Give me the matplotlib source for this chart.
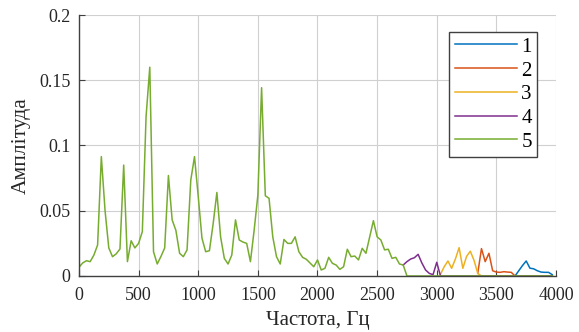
import numpy as np
import matplotlib
matplotlib.use("Agg")
import matplotlib.pyplot as plt

plt.rcParams['font.family'] = ['Liberation Serif', 'DejaVu Serif']
plt.rcParams['mathtext.fontset'] = 'stix'

# frequency grid (Hz)
freq_step = 31.25
n_points = 128

# series band values and starting index on the grid
s5_start = 0
s5_vals = [0.0067, 0.010, 0.0117, 0.011, 0.016, 0.0238, 0.0915, 0.050, 0.0215, 0.0148,
           0.017, 0.0207, 0.085, 0.011, 0.027, 0.0215, 0.025, 0.034, 0.122, 0.160,
           0.0186, 0.0092, 0.015, 0.0215, 0.077, 0.043, 0.035, 0.0174, 0.0148, 0.020,
           0.0735, 0.0915, 0.061, 0.029, 0.0186, 0.0194, 0.040, 0.064, 0.030, 0.0135,
           0.0092, 0.016, 0.043, 0.0276, 0.026, 0.025, 0.011, 0.035, 0.062, 0.1443,
           0.0615, 0.0595, 0.030, 0.0148, 0.0092, 0.028, 0.025, 0.025, 0.030, 0.0186,
           0.0143, 0.0128, 0.010, 0.0071, 0.0123, 0.0046, 0.0059, 0.0143, 0.0097, 0.0084,
           0.0051, 0.0071, 0.0205, 0.0148, 0.0153, 0.0123, 0.0212, 0.0174, 0.030, 0.0424,
           0.030, 0.0276, 0.020, 0.0205, 0.0135, 0.0143, 0.0092, 0.0084, 0.0]
s4_start = 87
s4_vals = [0.0084, 0.011, 0.013, 0.014, 0.0166, 0.010, 0.0046, 0.002, 0.001, 0.0105, 0.0]
s3_start = 97
s3_vals = [0.0013, 0.0071, 0.0115, 0.0059, 0.013, 0.0217, 0.0059, 0.015, 0.019, 0.012, 0.002]
s2_start = 107
s2_vals = [0.002, 0.021, 0.011, 0.0174, 0.004, 0.003, 0.0028, 0.0033, 0.003, 0.0028, 0.0]
s1_start = 117
s1_vals = [0.0, 0.004, 0.008, 0.0115, 0.006, 0.0055, 0.004, 0.003, 0.0028, 0.0028, 0.001]

labels = ['1', '2', '3', '4', '5']
colors = ['#0072BD', '#D95319', '#EDB120', '#7E2F8E', '#77AC30']

xticks = [0, 500, 1000, 1500, 2000, 2500, 3000, 3500, 4000]
yticks = [0, 0.05, 0.1, 0.15, 0.2]
ytick_labels = ['0', '0.05', '0.1', '0.15', '0.2']

freq = np.arange(n_points) * freq_step


def full_series(start, vals):
    y = np.full(n_points, np.nan)
    y[start:start + len(vals)] = vals
    y[start + len(vals):] = 0.0
    return y


series = [full_series(s1_start, s1_vals), full_series(s2_start, s2_vals),
          full_series(s3_start, s3_vals), full_series(s4_start, s4_vals),
          full_series(s5_start, s5_vals)]

fig = plt.figure(figsize=(5.79, 3.32), dpi=100)
ax = fig.add_axes([0.1364, 0.1687, 0.8239, 0.7861])

for y, c, lab in zip(series, colors, labels):
    ax.plot(freq, y, color=c, lw=1.1, label=lab)

ax.set_xlim(0, 4000)
ax.set_ylim(0, 0.2)
ax.set_xticks(xticks)
ax.set_yticks(yticks)
ax.set_yticklabels(ytick_labels)
ax.grid(True, color='#d0d0d0', lw=0.8)
ax.set_axisbelow(True)
for s in ['top', 'right']:
    ax.spines[s].set_visible(False)
for s in ['left', 'bottom']:
    ax.spines[s].set_color('#404040')
    ax.spines[s].set_linewidth(1.0)
ax.tick_params(direction='in', length=4, color='#404040', labelsize=13,
               labelcolor='#262626')
ax.tick_params(axis='x', pad=8)
ax.tick_params(axis='y', pad=6)
ax.set_xlabel('Частота, Гц', fontsize=15, color='#262626', labelpad=5)
ax.set_ylabel('Амплітуда', fontsize=15.5, color='#262626', labelpad=6)

leg = ax.legend(loc='upper right', bbox_to_anchor=(0.960, 0.935), fontsize=15,
                handlelength=3.0, handletextpad=0.2, labelspacing=0.2,
                borderpad=0.25, borderaxespad=0, fancybox=False, framealpha=1)
leg.get_frame().set_edgecolor('#404040')
leg.get_frame().set_linewidth(1.0)

fig.savefig('out.png', dpi=100)
